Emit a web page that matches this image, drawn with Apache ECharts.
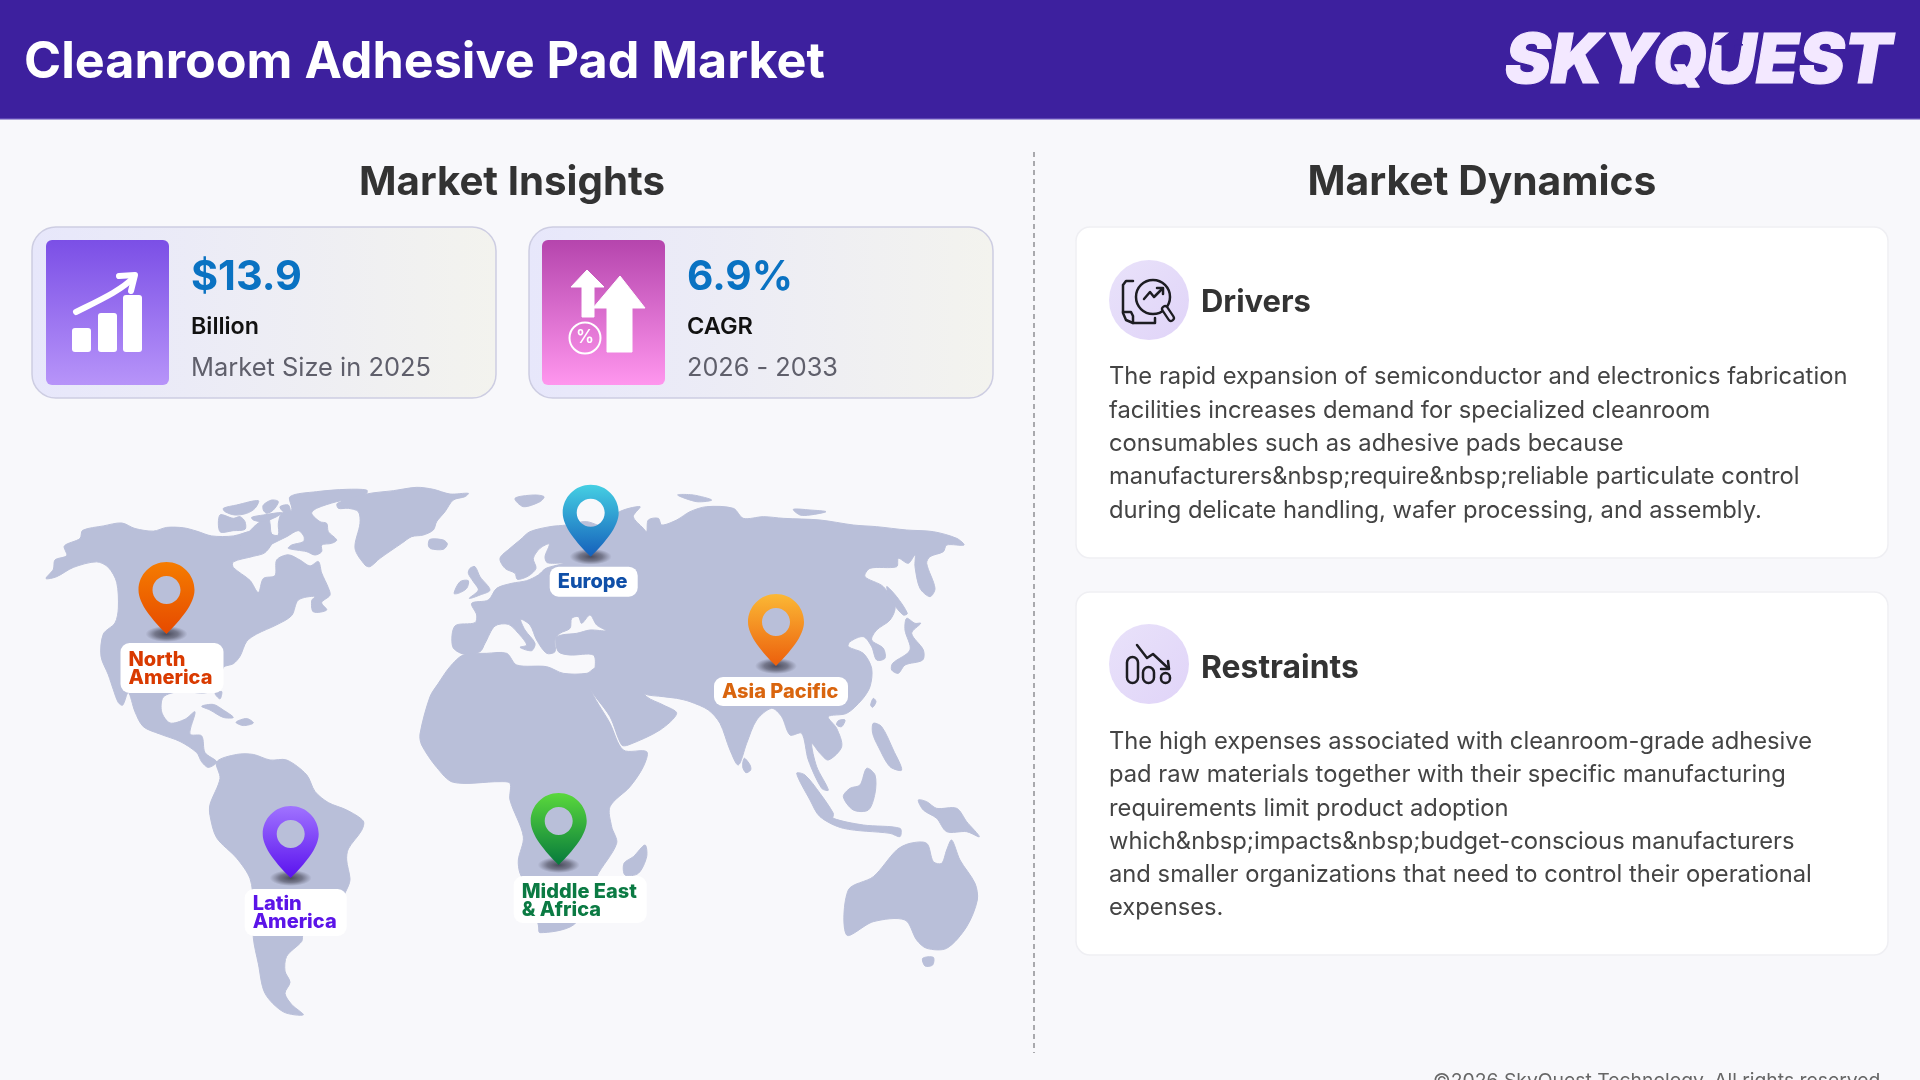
<!DOCTYPE html>
<html><head><meta charset="utf-8">
<style>html,body{margin:0;padding:0;background:#f8f8fb;overflow:hidden}#c{width:1920px;height:1080px}</style>
<script src="https://cdn.jsdelivr.net/npm/echarts@6/dist/echarts.min.js"></script>
</head><body><div id="c"></div>
<script>
// ---- text and values
const chartTitle = 'Cleanroom Adhesive Pad Market';
const brandName = 'SKYQUEST';
const sectionTitles = ['Market Insights', 'Market Dynamics'];
const insightValues = ['$13.9', '6.9%'];
const insightUnits = ['Billion', 'CAGR'];
const insightCaptions = ['Market Size in 2025', '2026 - 2033'];
const dynamicsTitles = ['Drivers', 'Restraints'];
const driversLines = [
  'The rapid expansion of semiconductor and electronics fabrication',
  'facilities increases demand for specialized cleanroom',
  'consumables such as adhesive pads because',
  'manufacturers&nbsp;require&nbsp;reliable particulate control',
  'during delicate handling, wafer processing, and assembly.'
];
const restraintsLines = [
  'The high expenses associated with cleanroom-grade adhesive',
  'pad raw materials together with their specific manufacturing',
  'requirements limit product adoption',
  'which&nbsp;impacts&nbsp;budget-conscious manufacturers',
  'and smaller organizations that need to control their operational',
  'expenses.'
];
const footerText = '©2026 SkyQuest Technology. All rights reserved.';
const regions = ['North\nAmerica', 'Latin\nAmerica', 'Europe', 'Asia Pacific', 'Middle East\n& Africa'];
const regionMapX = [166.5, 290.7, 590.7, 776, 558.7];
const regionMapY = [634, 878, 556.7, 666, 865];

// ---- world outline (three tracing frames)
const westLand = [
 [[78,320],[100,295],[105,270],[140,258],[133,232],[180,212],[188,190],[250,178],[305,170],[345,185],[400,192],[440,182],[490,183],[530,192],[575,205],[640,205],[700,190],[745,190],[760,215],[735,250],[700,260],[640,275],[640,290],[690,325],[715,358],[730,320],[765,312],[770,270],[805,256],[840,270],[870,286],[895,274],[905,305],[925,345],[930,365],[905,385],[920,405],[880,410],[875,380],[885,368],[835,378],[815,420],[770,445],[710,470],[680,490],[660,530],[640,550],[610,560],[600,600],[560,628],[480,625],[430,640],[425,680],[450,710],[495,700],[525,680],[510,740],[545,745],[555,790],[590,815],[565,830],[545,815],[530,790],[480,760],[420,740],[370,720],[345,680],[325,628],[308,662],[295,655],[280,620],[265,580],[243,530],[250,470],[285,440],[295,400],[290,330],[265,290],[230,275],[160,290],[110,315]],
 [[590,815],[650,795],[700,795],[750,810],[800,810],[860,850],[885,895],[925,925],[980,945],[1030,975],[1025,1000],[985,1050],[980,1080],[990,1130],[985,1150],[960,1190],[850,1280],[845,1300],[800,1340],[795,1380],[810,1410],[795,1440],[815,1470],[850,1498],[790,1490],[735,1440],[715,1360],[700,1290],[700,1200],[690,1130],[650,1075],[590,1020],[570,960],[570,930],[600,860]],
 [[545,665],[580,660],[610,675],[640,695],[610,695],[570,675]],
 [[648,708],[680,698],[700,710],[670,717]],
 [[585,630],[605,625],[600,645]]
];
const arcticLand = [
 [[100,142],[145,112],[150,130],[155,162],[175,165],[175,130],[185,100],[215,90],[210,50],[290,35],[380,28],[440,30],[440,40],[400,55],[350,65],[290,85],[275,100],[300,125],[320,130],[325,155],[350,180],[335,190],[305,195],[305,215],[285,225],[260,215],[205,205],[215,195],[250,185],[252,170],[235,152],[200,170],[150,195],[100,225],[60,200]],
 [[352,70],[440,42],[520,32],[590,22],[640,28],[690,42],[745,40],[735,50],[700,60],[675,95],[650,125],[640,150],[610,165],[575,170],[545,190],[480,235],[450,260],[435,255],[405,205],[420,130],[415,95],[385,85],[355,85]],
 [[630,178],[670,180],[682,192],[670,208],[632,206],[625,195]],
 [[10,85],[50,75],[115,62],[105,85],[80,100],[45,105],[15,95]],
 [[130,75],[155,60],[175,65],[160,90],[140,100],[130,90]],
 [[95,112],[130,105],[185,98],[170,110],[130,125],[100,120]],
 [[180,80],[205,75],[210,95],[190,95]],
 [[0,105],[40,115],[60,110],[75,125],[75,148],[40,152],[0,155]]
];
const eastLand = [
 [[90,215],[150,200],[200,195],[260,185],[330,205],[350,160],[420,140],[400,170],[430,205],[440,215],[445,180],[475,175],[485,195],[530,180],[570,155],[620,140],[700,145],[730,175],[790,170],[850,175],[960,180],[1060,195],[1130,200],[1220,210],[1300,215],[1370,235],[1392,255],[1340,255],[1330,275],[1290,290],[1280,310],[1305,385],[1290,410],[1260,385],[1245,320],[1245,285],[1225,310],[1195,295],[1190,320],[1110,325],[1095,350],[1150,380],[1185,440],[1170,480],[1130,510],[1115,540],[1150,565],[1155,595],[1130,600],[1115,560],[1090,530],[1050,545],[1045,560],[1090,580],[1115,625],[1110,680],[1085,720],[1040,760],[985,770],[1010,805],[1025,860],[985,900],[960,880],[935,850],[950,920],[985,990],[965,985],[925,900],[905,820],[870,825],[845,770],[815,745],[770,780],[740,850],[715,915],[690,870],[660,790],[625,750],[570,725],[530,715],[490,710],[430,700],[405,660],[440,710],[490,735],[530,760],[480,810],[385,855],[365,855],[330,770],[270,680],[285,625],[280,585],[210,585],[175,575],[168,535],[185,525],[230,520],[270,510],[318,512],[290,495],[270,465],[245,490],[235,470],[215,475],[210,505],[180,520],[165,540],[165,575],[140,580],[110,540],[90,495],[62,478],[75,510],[105,550],[95,572],[60,562],[80,555],[55,520],[25,493],[-15,498],[-45,550],[-60,575],[-110,582],[-142,560],[-135,498],[-75,488],[-70,465],[-85,430],[-35,420],[-10,385],[35,370],[80,362],[115,345],[138,325],[190,310],[142,308],[135,290],[148,252],[120,265],[100,295],[108,325],[85,348],[52,358],[45,340],[15,325],[0,295],[30,265],[60,240]],
 [[-240,822],[-210,710],[-185,670],[-150,620],[-110,585],[-40,580],[20,580],[50,615],[140,620],[190,640],[260,640],[285,625],[270,680],[330,790],[370,870],[440,875],[430,920],[390,980],[330,1040],[335,1100],[350,1150],[290,1250],[280,1300],[220,1395],[120,1418],[115,1395],[90,1300],[60,1240],[55,1200],[70,1130],[30,1020],[30,970],[0,965],[-140,967],[-190,922],[-235,855]],
 [[-90,325],[-75,320],[-60,350],[-30,390],[-60,405],[-92,415],[-65,390],[-80,365],[-95,340]],
 [[-138,400],[-120,365],[-95,362],[-100,385],[-125,400]],
 [[435,1155],[440,1190],[415,1240],[375,1245],[372,1210],[400,1190]],
 [[1355,1140],[1380,1200],[1425,1270],[1432,1320],[1400,1400],[1340,1465],[1280,1465],[1250,1440],[1215,1380],[1120,1385],[1040,1425],[1045,1290],[1120,1250],[1190,1170],[1230,1150],[1280,1150],[1300,1205],[1325,1210],[1340,1170]],
 [[1268,1495],[1300,1492],[1298,1515],[1275,1518]],
 [[1255,1020],[1280,1025],[1310,1045],[1370,1045],[1400,1085],[1438,1130],[1400,1115],[1340,1115],[1310,1075],[1270,1050]],
 [[1100,925],[1125,945],[1125,1000],[1105,1050],[1060,1050],[1030,1010],[1050,985],[1080,975]],
 [[1120,790],[1145,800],[1180,870],[1205,930],[1170,920],[1135,860],[1118,820]],
 [[890,940],[915,945],[960,1000],[1000,1060],[1000,1075],[1090,1095],[1200,1105],[1200,1130],[1170,1120],[1030,1105],[960,1070],[930,1020]],
 [[1120,715],[1128,725],[1118,742],[1112,735]],
 [[1015,782],[1035,780],[1025,800],[1010,795]],
 [[733,895],[750,915],[752,930],[738,938],[728,920]],
 [[1220,475],[1245,490],[1262,490],[1235,520],[1270,570],[1268,600],[1215,615],[1195,640],[1175,630],[1178,610],[1230,570],[1215,510]],
 [[1160,380],[1190,410],[1222,460],[1210,465],[1180,430]],
 [[45,115],[100,105],[132,110],[120,125],[70,140]],
 [[533,105],[580,105],[635,120],[590,125]],
 [[880,148],[930,150],[978,155],[930,165],[900,165]]
];

// ---- styling
const FONT = 'Inter';
const LAND = '#b9bfd9', DARK = '#333333', HEADER = '#3d209e', LOGO = '#f3e8ff';
const pinColors = [['#f57c00','#e64a00'],['#a073ff','#5a12ee'],['#45cfe3','#1560bb'],['#fbb835','#ec5f0c'],['#5ad83c','#067a3c']];
const labelColors = ['#d93a00','#5b14e8','#0f4fa8','#d9650e','#0b7a43'];
const labelBoxes = [[-46,9,103,50],[-46,11,102,47],[-41,10,88,30],[-62,11,134,29],[-45,11,133,47]];
const labelPads = [[8,8,8,8],[6,8,10,8],[8,8,8,8],[8,8,8,8],[7,8,9,8]];
const PIN = 'path://M28 0C12.5 0 0 12.5 0 28C0 42 14 58 28 72C42 58 56 42 56 28C56 12.5 43.5 0 28 0ZM28 14C35.7 14 42 20.3 42 28C42 35.7 35.7 42 28 42C20.3 42 14 35.7 14 28C14 20.3 20.3 14 28 14Z';

const lg = (c0,c1,x2,y2) => new echarts.graphic.LinearGradient(0,0,x2,y2,[{offset:0,color:c0},{offset:1,color:c1}]);
const mctx = document.createElement('canvas').getContext('2d');
function fit(t,w,target){ mctx.font = w+' 100px '+FONT; return 100*target/mctx.measureText(t).width; }
const txt = (t,x,y,size,weight,fill,align) => ({type:'text',silent:true,style:{text:t,x,y,fontFamily:FONT,fontSize:size,fontWeight:weight,fill,align:align||'left',verticalAlign:'middle'}});
const rect = (x,y,w,h,r,fill,stroke) => ({type:'rect',silent:true,shape:{x,y,width:w,height:h,r},style:{fill,stroke:stroke||null,lineWidth:stroke?1.5:0}});
const line = (pts,lw,col) => ({type:'polyline',silent:true,shape:{points:pts},style:{stroke:col,lineWidth:lw,fill:null,lineCap:'round',lineJoin:'round'}});
const poly = (pts,col) => ({type:'polygon',silent:true,shape:{points:pts},style:{fill:col,stroke:col,lineWidth:1,lineJoin:'round'}});
const circ = (cx,cy,r,fill,stroke,lw) => ({type:'circle',silent:true,shape:{cx,cy,r},style:{fill:fill||null,stroke:stroke||null,lineWidth:lw||0}});

const bodySize = fit(driversLines[0],'400',739);
const g = [];
// header
g.push(rect(0,0,1920,119,0,HEADER));
g.push(rect(0,118,1920,1.5,0,'#5d45b5'));
g.push(txt(chartTitle,24,63,fit(chartTitle,'700',801),700,'#ffffff'));
g.push({type:'text',silent:true,style:{text:brandName,x:1505,y:62,fontFamily:FONT,fontSize:fit(brandName,'900',387),fontWeight:900,fontStyle:'italic',fill:LOGO,stroke:LOGO,lineWidth:1.2,align:'left',verticalAlign:'middle'}});
g.push(poly([[1729,33],[1743,45],[1735,45],[1733,70],[1722,70],[1722,45],[1715,44]],HEADER));
// section headings
g.push(txt(sectionTitles[0],512,183,fit(sectionTitles[0],'700',306),700,DARK,'center'));
g.push(txt(sectionTitles[1],1482,183,fit(sectionTitles[1],'700',349),700,DARK,'center'));
// divider
g.push({type:'line',silent:true,shape:{x1:1034,y1:152,x2:1034,y2:1053},style:{stroke:'#a9a9ad',lineWidth:2,lineDash:[5,4]}});
// insight cards
[[32,46,191,['#7b4fe6','#b794f9']],[529,542,687,['#b545ad','#ff96ee']]].forEach((c,i)=>{
  g.push(rect(c[0],227,464,171,24,lg('#e7e7fb','#f3f3ee',1,0),'#cdcde2'));
  g.push(rect(c[1],240,123,145,6,lg(c[3][0],c[3][1],0,1)));
  g.push(txt(insightValues[i],c[2],278,fit(insightValues[i],'700',i?106:111),700,'#0a72c2'));
  g.push(txt(insightUnits[i],c[2],327,fit(insightUnits[i],'600',i?66:68),600,'#111111'));
  g.push(txt(insightCaptions[i],c[2],368,fit(insightCaptions[i],'400',i?151:240),400,'#5f5f6b'));
});
// icon: growth
[[72,328],[98,313],[123,295]].forEach(b=>g.push(rect(b[0],b[1],19,352-b[1],3,'#ffffff')));
g.push({type:'bezierCurve',silent:true,shape:{x1:76,y1:312,x2:134,y2:277,cpx1:100,cpy1:300,cpx2:122,cpy2:290},style:{stroke:'#fff',lineWidth:6,fill:null,lineCap:'round'}});
g.push(line([[119,276],[135,275],[131,291]],6,'#ffffff'));
// icon: arrows
g.push(poly([[587,270],[604,287],[594,287],[594,317],[582,317],[582,287],[571,287]],'#ffffff'));
g.push(poly([[620,276],[645,308],[632,308],[632,352],[607,352],[607,308],[593,308]],'#ffffff'));
g.push(circ(585,338,15.5,null,'#ffffff',2));
g.push(txt('%',585,338,18,600,'#ffffff','center'));
// dynamics cards
[[227,331],[592,363]].forEach(c=>g.push({type:'rect',silent:true,shape:{x:1076,y:c[0],width:812,height:c[1],r:14},style:{fill:'#ffffff',stroke:'#efeff3',lineWidth:1.5}}));
[300,664].forEach((cy,i)=>{
  g.push({type:'circle',silent:true,shape:{cx:1149,cy,r:40},style:{fill:lg('#e9e2fa','#e0d4f8',1,1)}});
  g.push(txt(dynamicsTitles[i],1201,cy+(i?4:3),fit(dynamicsTitles[i],'700',i?158:110),700,DARK));
});
driversLines.forEach((l,i)=>g.push(txt(l,1109,377+i*33.4,bodySize,400,'#444444')));
restraintsLines.forEach((l,i)=>g.push(txt(l,1109,742+i*33.2,bodySize,400,'#444444')));
// icon: drivers
const IK='#1d1d22';
g.push(line([[1133,281],[1126,281],[1123,285],[1123,313],[1126,320],[1133,323],[1155,323],[1155,318]],2.5,IK));
g.push(line([[1123,312],[1131,312],[1133,316],[1133,323]],2.5,IK));
g.push(circ(1153,297,17,null,IK,2.5));
g.push(line([[1165,309],[1171,318]],8,IK));
g.push(line([[1165,309],[1171,318]],3.5,'#e6ddf9'));
g.push(line([[1144,299],[1150,292],[1154,297],[1162,289]],2.5,IK));
g.push(line([[1157,288],[1163,288],[1163,294]],2.5,IK));
// icon: restraints
[[1127,657,11],[1143,667,11],[1161,673,9]].forEach(b=>g.push({type:'rect',silent:true,shape:{x:b[0],y:b[1],width:b[2],height:683-b[1],r:b[2]/2},style:{fill:null,stroke:IK,lineWidth:2.5}}));
g.push(line([[1137,645],[1147,658],[1153,654],[1168,668]],2.5,IK));
g.push(line([[1168,661],[1169,669],[1161,669]],2.5,IK));
// footer
g.push(txt(footerText,1886,1081,fit(footerText,'400',453),400,'#666666','right'));

// map shapes in picture coordinates
const toW = p => [20+p[0]/3, 460+p[1]/2.7];
const toE = p => [500+p[0]/3, 460+p[1]/3];
const toA = p => [220+p[0]/3, 480+p[1]/3];
const landShapes = westLand.map(s=>s.map(toW)).concat(arcticLand.map(s=>s.map(toA))).concat(eastLand.map(s=>s.map(toE)));

const option = {
  animation:false,
  backgroundColor:'#f8f8fb',
  grid:{left:0,top:0,width:1920,height:1080},
  xAxis:{type:'value',min:0,max:1920,show:false},
  yAxis:{type:'value',min:0,max:1080,inverse:true,show:false},
  graphic:{elements:g},
  series:[
   {type:'custom',name:'World',silent:true,clip:false,z:1,
    data:landShapes.map(s=>s[0]),
    renderItem:(p,api)=>({type:'polygon',shape:{points:landShapes[p.dataIndex].map(q=>api.coord(q)),smooth:0.3},style:{fill:LAND,stroke:LAND,lineWidth:1,lineJoin:'round'}})},
   {type:'scatter',name:'Pin shadow',silent:true,z:2,symbol:'circle',symbolSize:[42,16],
    data:regions.map((r,i)=>({value:[regionMapX[i],regionMapY[i]],itemStyle:{opacity:1,color:new echarts.graphic.RadialGradient(.5,.5,.5,[{offset:0,color:'rgba(55,55,70,.85)'},{offset:.55,color:'rgba(60,60,75,.55)'},{offset:1,color:'rgba(70,70,90,0)'}])}}))},
   {type:'scatter',name:'Pins',silent:true,z:3,symbol:PIN,symbolSize:[56,72],symbolOffset:[0,'-50%'],
    data:regions.map((r,i)=>({name:r,value:[regionMapX[i],regionMapY[i]],itemStyle:{opacity:1,color:lg(pinColors[i][0],pinColors[i][1],0,1)}}))},
   {type:'scatter',name:'Region labels',silent:true,z:4,symbol:'circle',symbolSize:0,itemStyle:{opacity:1},
    data:regions.map((r,i)=>{const b=labelBoxes[i],pd=labelPads[i];return {name:r,value:[regionMapX[i],regionMapY[i]],
      label:{show:true,formatter:r,position:[b[0],b[1]],align:'left',verticalAlign:'top',width:b[2]-pd[1]-pd[3],height:b[3]-pd[0]-pd[2],padding:pd,
        backgroundColor:'#ffffff',borderRadius:9,color:labelColors[i],fontFamily:FONT,fontWeight:800,fontSize:20,lineHeight:b[3]>40?18:14,overflow:'none'}};})}
  ]
};
const chart = echarts.init(document.getElementById('c'),null,{renderer:'canvas'});
chart.setOption(option);
</script></body></html>
